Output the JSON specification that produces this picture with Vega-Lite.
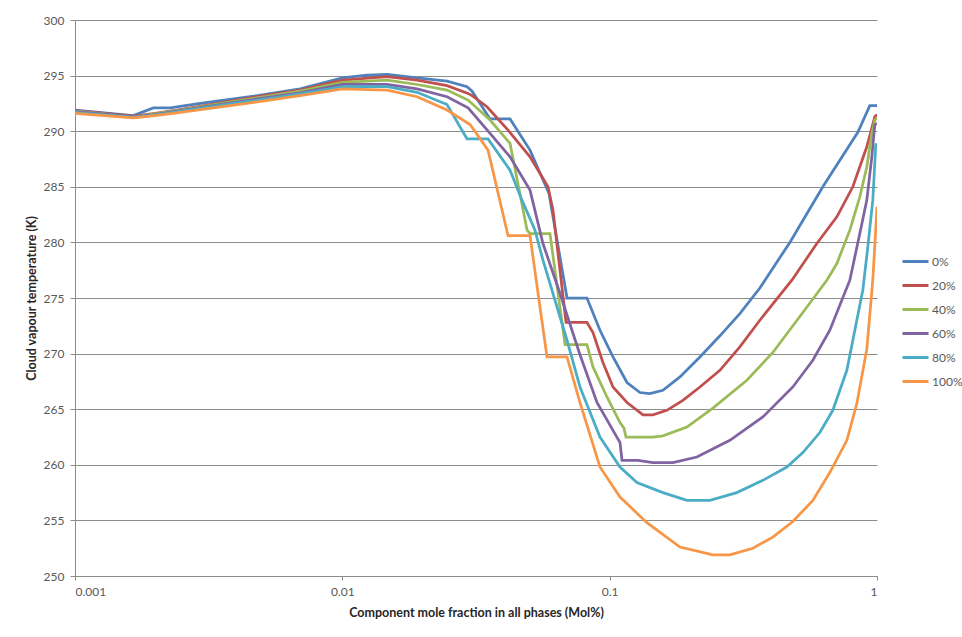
{
  "$schema": "https://vega.github.io/schema/vega-lite/v6.json",
  "width": 802,
  "height": 556,
  "autosize": {"type": "none"},
  "padding": {"left": 75, "top": 20, "right": 85, "bottom": 61},
  "background": "white",
  "config": {
    "font": "Lato",
    "view": {"stroke": null},
    "axis": {
      "labelColor": "#595959",
      "labelFontSize": 12,
      "titleFontSize": 12.5,
      "titleFontWeight": "bold",
      "titleColor": "#262626",
      "domainColor": "#8c8c8c",
      "tickColor": "#8c8c8c",
      "gridColor": "#8c8c8c",
      "gridWidth": 1,
      "domainWidth": 1
    }
  },
  "datasets": {
    "d": [
      {"s": "0%", "x": 0.001, "y": 291.9},
      {"s": "0%", "x": 0.001652, "y": 291.4},
      {"s": "0%", "x": 0.001963, "y": 292.1},
      {"s": "0%", "x": 0.002272, "y": 292.1},
      {"s": "0%", "x": 0.00294, "y": 292.5},
      {"s": "0%", "x": 0.00452, "y": 293.1},
      {"s": "0%", "x": 0.006955, "y": 293.8},
      {"s": "0%", "x": 0.01, "y": 294.8},
      {"s": "0%", "x": 0.01238, "y": 295.05},
      {"s": "0%", "x": 0.01471, "y": 295.1},
      {"s": "0%", "x": 0.01904, "y": 294.8},
      {"s": "0%", "x": 0.02464, "y": 294.5},
      {"s": "0%", "x": 0.02928, "y": 294.0},
      {"s": "0%", "x": 0.03057, "y": 293.6},
      {"s": "0%", "x": 0.03569, "y": 291.1},
      {"s": "0%", "x": 0.04239, "y": 291.1},
      {"s": "0%", "x": 0.05035, "y": 288.3},
      {"s": "0%", "x": 0.0593, "y": 284.4},
      {"s": "0%", "x": 0.06926, "y": 275.0},
      {"s": "0%", "x": 0.08223, "y": 275.0},
      {"s": "0%", "x": 0.09199, "y": 272.1},
      {"s": "0%", "x": 0.1029, "y": 269.7},
      {"s": "0%", "x": 0.1161, "y": 267.4},
      {"s": "0%", "x": 0.1298, "y": 266.5},
      {"s": "0%", "x": 0.1414, "y": 266.4},
      {"s": "0%", "x": 0.1582, "y": 266.7},
      {"s": "0%", "x": 0.1832, "y": 267.9},
      {"s": "0%", "x": 0.2176, "y": 269.7},
      {"s": "0%", "x": 0.2585, "y": 271.6},
      {"s": "0%", "x": 0.3069, "y": 273.6},
      {"s": "0%", "x": 0.3646, "y": 275.9},
      {"s": "0%", "x": 0.4721, "y": 280.0},
      {"s": "0%", "x": 0.6272, "y": 285.0},
      {"s": "0%", "x": 0.8477, "y": 289.9},
      {"s": "0%", "x": 0.94, "y": 292.3},
      {"s": "0%", "x": 1, "y": 292.3},

      {"s": "20%", "x": 0.001, "y": 291.85},
      {"s": "20%", "x": 0.001652, "y": 291.35},
      {"s": "20%", "x": 0.001996, "y": 291.6},
      {"s": "20%", "x": 0.002475, "y": 291.95},
      {"s": "20%", "x": 0.00452, "y": 293.0},
      {"s": "20%", "x": 0.006955, "y": 293.7},
      {"s": "20%", "x": 0.01, "y": 294.6},
      {"s": "20%", "x": 0.01471, "y": 294.9},
      {"s": "20%", "x": 0.01904, "y": 294.6},
      {"s": "20%", "x": 0.02464, "y": 294.1},
      {"s": "20%", "x": 0.02954, "y": 293.4},
      {"s": "20%", "x": 0.03057, "y": 293.2},
      {"s": "20%", "x": 0.03477, "y": 292.2},
      {"s": "20%", "x": 0.04167, "y": 290.1},
      {"s": "20%", "x": 0.05035, "y": 287.7},
      {"s": "20%", "x": 0.05879, "y": 285.0},
      {"s": "20%", "x": 0.06138, "y": 282.9},
      {"s": "20%", "x": 0.06867, "y": 272.8},
      {"s": "20%", "x": 0.08223, "y": 272.8},
      {"s": "20%", "x": 0.08662, "y": 271.9},
      {"s": "20%", "x": 0.09438, "y": 269.2},
      {"s": "20%", "x": 0.1029, "y": 267.0},
      {"s": "20%", "x": 0.1161, "y": 265.6},
      {"s": "20%", "x": 0.1332, "y": 264.5},
      {"s": "20%", "x": 0.1451, "y": 264.5},
      {"s": "20%", "x": 0.1637, "y": 264.9},
      {"s": "20%", "x": 0.1879, "y": 265.8},
      {"s": "20%", "x": 0.2176, "y": 267.0},
      {"s": "20%", "x": 0.2585, "y": 268.5},
      {"s": "20%", "x": 0.3069, "y": 270.6},
      {"s": "20%", "x": 0.3646, "y": 273.0},
      {"s": "20%", "x": 0.4803, "y": 276.6},
      {"s": "20%", "x": 0.5957, "y": 279.9},
      {"s": "20%", "x": 0.7078, "y": 282.3},
      {"s": "20%", "x": 0.812, "y": 285.0},
      {"s": "20%", "x": 0.916, "y": 288.6},
      {"s": "20%", "x": 0.9813, "y": 291.3},
      {"s": "20%", "x": 1, "y": 291.5},

      {"s": "40%", "x": 0.001, "y": 291.8},
      {"s": "40%", "x": 0.001652, "y": 291.3},
      {"s": "40%", "x": 0.001996, "y": 291.55},
      {"s": "40%", "x": 0.002475, "y": 291.9},
      {"s": "40%", "x": 0.00452, "y": 292.9},
      {"s": "40%", "x": 0.006955, "y": 293.6},
      {"s": "40%", "x": 0.01, "y": 294.4},
      {"s": "40%", "x": 0.01471, "y": 294.6},
      {"s": "40%", "x": 0.01904, "y": 294.2},
      {"s": "40%", "x": 0.02464, "y": 293.7},
      {"s": "40%", "x": 0.02954, "y": 292.8},
      {"s": "40%", "x": 0.03569, "y": 291.0},
      {"s": "40%", "x": 0.04239, "y": 288.9},
      {"s": "40%", "x": 0.0491, "y": 281.1},
      {"s": "40%", "x": 0.05035, "y": 280.8},
      {"s": "40%", "x": 0.05981, "y": 280.8},
      {"s": "40%", "x": 0.06808, "y": 270.8},
      {"s": "40%", "x": 0.08223, "y": 270.8},
      {"s": "40%", "x": 0.08662, "y": 268.8},
      {"s": "40%", "x": 0.0977, "y": 266.1},
      {"s": "40%", "x": 0.1093, "y": 263.8},
      {"s": "40%", "x": 0.1131, "y": 263.3},
      {"s": "40%", "x": 0.1151, "y": 262.5},
      {"s": "40%", "x": 0.1451, "y": 262.5},
      {"s": "40%", "x": 0.1582, "y": 262.6},
      {"s": "40%", "x": 0.1945, "y": 263.4},
      {"s": "40%", "x": 0.2433, "y": 265.1},
      {"s": "40%", "x": 0.326, "y": 267.6},
      {"s": "40%", "x": 0.4077, "y": 270.1},
      {"s": "40%", "x": 0.528, "y": 273.7},
      {"s": "40%", "x": 0.6491, "y": 276.6},
      {"s": "40%", "x": 0.7078, "y": 278.1},
      {"s": "40%", "x": 0.7914, "y": 281.1},
      {"s": "40%", "x": 0.8624, "y": 284.1},
      {"s": "40%", "x": 0.916, "y": 286.8},
      {"s": "40%", "x": 0.9563, "y": 289.8},
      {"s": "40%", "x": 0.9813, "y": 291.0},
      {"s": "40%", "x": 1, "y": 291.2},

      {"s": "60%", "x": 0.001, "y": 291.75},
      {"s": "60%", "x": 0.001652, "y": 291.3},
      {"s": "60%", "x": 0.001996, "y": 291.5},
      {"s": "60%", "x": 0.002475, "y": 291.85},
      {"s": "60%", "x": 0.00452, "y": 292.8},
      {"s": "60%", "x": 0.006955, "y": 293.45},
      {"s": "60%", "x": 0.01, "y": 294.2},
      {"s": "60%", "x": 0.01471, "y": 294.2},
      {"s": "60%", "x": 0.01904, "y": 293.8},
      {"s": "60%", "x": 0.02464, "y": 293.1},
      {"s": "60%", "x": 0.02954, "y": 292.1},
      {"s": "60%", "x": 0.03569, "y": 289.8},
      {"s": "60%", "x": 0.04239, "y": 287.7},
      {"s": "60%", "x": 0.05035, "y": 284.7},
      {"s": "60%", "x": 0.0563, "y": 279.9},
      {"s": "60%", "x": 0.0652, "y": 275.4},
      {"s": "60%", "x": 0.07744, "y": 269.9},
      {"s": "60%", "x": 0.08965, "y": 265.6},
      {"s": "60%", "x": 0.1029, "y": 263.1},
      {"s": "60%", "x": 0.1093, "y": 262.0},
      {"s": "60%", "x": 0.1112, "y": 260.4},
      {"s": "60%", "x": 0.1276, "y": 260.4},
      {"s": "60%", "x": 0.1451, "y": 260.2},
      {"s": "60%", "x": 0.1724, "y": 260.2},
      {"s": "60%", "x": 0.212, "y": 260.7},
      {"s": "60%", "x": 0.2816, "y": 262.2},
      {"s": "60%", "x": 0.3741, "y": 264.3},
      {"s": "60%", "x": 0.4844, "y": 267.0},
      {"s": "60%", "x": 0.5754, "y": 269.4},
      {"s": "60%", "x": 0.6661, "y": 272.1},
      {"s": "60%", "x": 0.7914, "y": 276.6},
      {"s": "60%", "x": 0.8624, "y": 280.8},
      {"s": "60%", "x": 0.916, "y": 283.8},
      {"s": "60%", "x": 0.9563, "y": 287.7},
      {"s": "60%", "x": 0.9813, "y": 290.6},
      {"s": "60%", "x": 1, "y": 290.7},

      {"s": "80%", "x": 0.001, "y": 291.7},
      {"s": "80%", "x": 0.001652, "y": 291.25},
      {"s": "80%", "x": 0.001996, "y": 291.45},
      {"s": "80%", "x": 0.002475, "y": 291.8},
      {"s": "80%", "x": 0.00452, "y": 292.7},
      {"s": "80%", "x": 0.006955, "y": 293.35},
      {"s": "80%", "x": 0.01, "y": 294.0},
      {"s": "80%", "x": 0.01471, "y": 294.0},
      {"s": "80%", "x": 0.01904, "y": 293.5},
      {"s": "80%", "x": 0.02464, "y": 292.4},
      {"s": "80%", "x": 0.02928, "y": 289.3},
      {"s": "80%", "x": 0.03508, "y": 289.3},
      {"s": "80%", "x": 0.04239, "y": 286.5},
      {"s": "80%", "x": 0.04699, "y": 283.8},
      {"s": "80%", "x": 0.05256, "y": 281.1},
      {"s": "80%", "x": 0.0563, "y": 278.4},
      {"s": "80%", "x": 0.06926, "y": 271.2},
      {"s": "80%", "x": 0.07744, "y": 267.0},
      {"s": "80%", "x": 0.09199, "y": 262.5},
      {"s": "80%", "x": 0.1093, "y": 259.8},
      {"s": "80%", "x": 0.1265, "y": 258.4},
      {"s": "80%", "x": 0.1582, "y": 257.5},
      {"s": "80%", "x": 0.1945, "y": 256.8},
      {"s": "80%", "x": 0.2371, "y": 256.8},
      {"s": "80%", "x": 0.2991, "y": 257.5},
      {"s": "80%", "x": 0.3741, "y": 258.6},
      {"s": "80%", "x": 0.4601, "y": 259.8},
      {"s": "80%", "x": 0.528, "y": 261.1},
      {"s": "80%", "x": 0.6113, "y": 262.9},
      {"s": "80%", "x": 0.6836, "y": 264.9},
      {"s": "80%", "x": 0.7713, "y": 268.5},
      {"s": "80%", "x": 0.8404, "y": 273.0},
      {"s": "80%", "x": 0.8849, "y": 275.7},
      {"s": "80%", "x": 0.9239, "y": 279.6},
      {"s": "80%", "x": 0.9645, "y": 283.8},
      {"s": "80%", "x": 0.9897, "y": 288.8},
      {"s": "80%", "x": 1, "y": 288.8},

      {"s": "100%", "x": 0.001, "y": 291.6},
      {"s": "100%", "x": 0.001652, "y": 291.2},
      {"s": "100%", "x": 0.001996, "y": 291.4},
      {"s": "100%", "x": 0.002475, "y": 291.7},
      {"s": "100%", "x": 0.00452, "y": 292.55},
      {"s": "100%", "x": 0.006955, "y": 293.2},
      {"s": "100%", "x": 0.01, "y": 293.8},
      {"s": "100%", "x": 0.01471, "y": 293.7},
      {"s": "100%", "x": 0.01904, "y": 293.1},
      {"s": "100%", "x": 0.02464, "y": 291.9},
      {"s": "100%", "x": 0.03005, "y": 290.6},
      {"s": "100%", "x": 0.03508, "y": 288.3},
      {"s": "100%", "x": 0.04167, "y": 280.6},
      {"s": "100%", "x": 0.05035, "y": 280.6},
      {"s": "100%", "x": 0.05829, "y": 269.7},
      {"s": "100%", "x": 0.06926, "y": 269.7},
      {"s": "100%", "x": 0.07744, "y": 265.6},
      {"s": "100%", "x": 0.09199, "y": 259.8},
      {"s": "100%", "x": 0.1093, "y": 257.1},
      {"s": "100%", "x": 0.1378, "y": 254.8},
      {"s": "100%", "x": 0.1832, "y": 252.6},
      {"s": "100%", "x": 0.2433, "y": 251.9},
      {"s": "100%", "x": 0.2816, "y": 251.9},
      {"s": "100%", "x": 0.3434, "y": 252.5},
      {"s": "100%", "x": 0.4077, "y": 253.5},
      {"s": "100%", "x": 0.4844, "y": 254.9},
      {"s": "100%", "x": 0.5754, "y": 256.8},
      {"s": "100%", "x": 0.6661, "y": 259.3},
      {"s": "100%", "x": 0.7713, "y": 262.2},
      {"s": "100%", "x": 0.8404, "y": 265.5},
      {"s": "100%", "x": 0.916, "y": 270.4},
      {"s": "100%", "x": 0.9645, "y": 276.6},
      {"s": "100%", "x": 1, "y": 283.2}
    ]
  },
  "data": {"name": "d"},
  "mark": {"type": "line", "strokeWidth": 2.75, "clip": true},
  "encoding": {
    "x": {
      "field": "x",
      "type": "quantitative",
      "scale": {"type": "log", "domain": [0.001, 1], "nice": false},
      "axis": {
        "values": [0.001, 0.01, 0.1, 1],
        "format": "~g",
        "title": "Component mole fraction in all phases (Mol%)",
        "grid": false,
        "tickSize": 4,
        "labelPadding": 6,
        "titlePadding": 9
      }
    },
    "y": {
      "field": "y",
      "type": "quantitative",
      "scale": {"domain": [250, 300], "nice": false, "zero": false},
      "axis": {
        "values": [250, 255, 260, 265, 270, 275, 280, 285, 290, 295, 300],
        "title": "Cloud vapour temperature (K)",
        "grid": true,
        "tickSize": 5,
        "labelPadding": 6,
        "titlePadding": 5
      }
    },
    "color": {
      "field": "s",
      "type": "nominal",
      "scale": {
        "domain": ["0%", "20%", "40%", "60%", "80%", "100%"],
        "range": ["#4F81BD", "#C0504D", "#9BBB59", "#8064A2", "#4BACC6", "#F79646"]
      },
      "legend": {
        "title": null,
        "orient": "none",
        "legendX": 826,
        "legendY": 227,
        "symbolType": "stroke",
        "symbolSize": 676,
        "symbolStrokeWidth": 3,
        "labelFontSize": 12,
        "labelColor": "#595959",
        "labelOffset": 2,
        "rowPadding": 3,
        "padding": 0
      }
    }
  }
}
